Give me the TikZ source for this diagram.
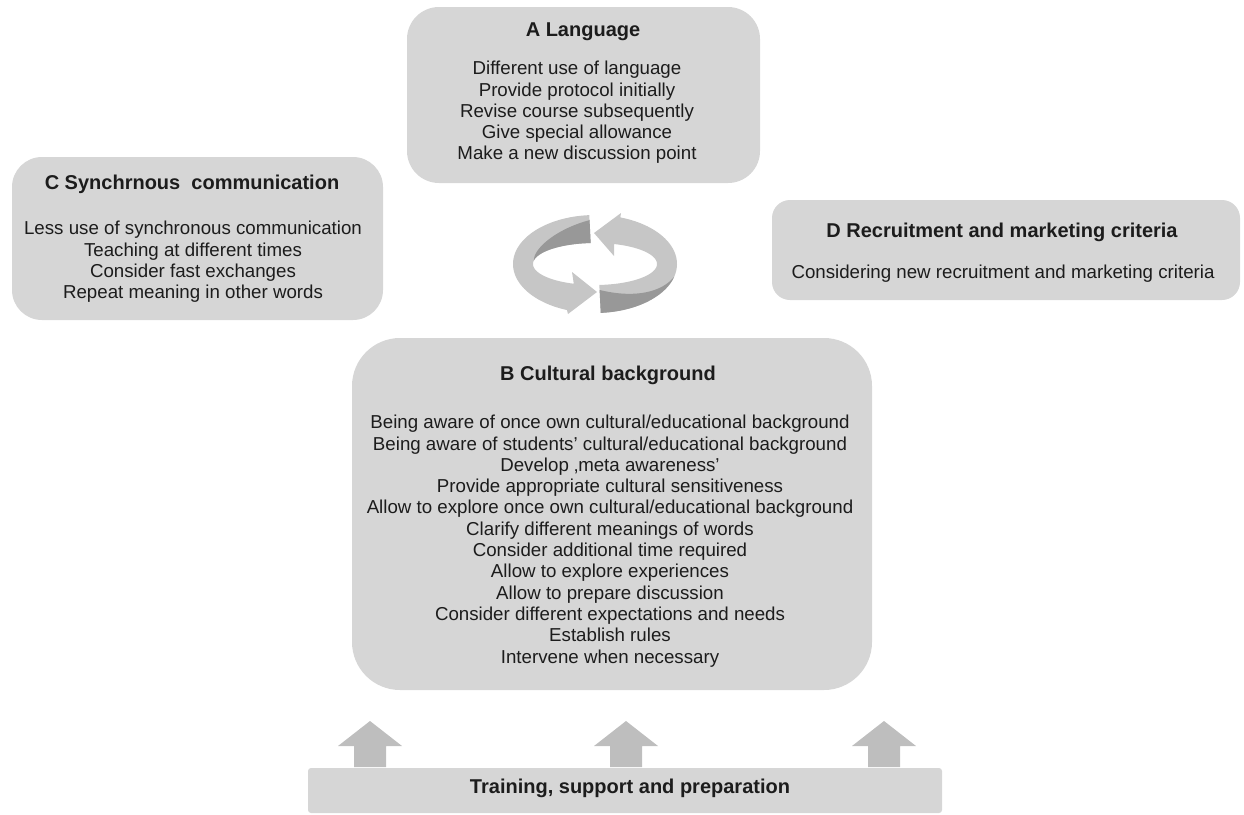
\documentclass[tikz,border=0pt]{standalone}
\usepackage{fontspec}
\setmainfont{Liberation Sans}
\definecolor{panelgray}{HTML}{D6D6D6}
\definecolor{ringlight}{HTML}{C6C6C6}
\definecolor{ringdark}{HTML}{989898}
\definecolor{arrowgray}{HTML}{BEBEBE}
\definecolor{inkgray}{HTML}{1C1C1C}
\begin{document}
\begin{tikzpicture}[x=1pt,y=-1pt,
  panel/.style={fill=panelgray, draw=none, rounded corners=#1, inner sep=0pt},
  heading/.style={font=\fontsize{20}{23}\selectfont\bfseries, text=inkgray, inner sep=0pt, anchor=base},
  bodytext/.style={font=\fontsize{18.7}{21.3}\selectfont, text=inkgray, align=center, inner sep=0pt, anchor=north},
  uparr/.pic={\fill[arrowgray] (0,0) -- (32,25) -- (16,25) -- (16,46) -- (-16,46) -- (-16,25) -- (-32,25) -- cycle;}
]
\useasboundingbox (0,0) rectangle (1244,814);

% ---- panels ----
\node[panel=32pt, minimum width=353pt, minimum height=176pt] (boxA) at (583.5,95) {};
\node[panel=30pt, minimum width=371pt, minimum height=163pt] (boxC) at (197.5,238.5) {};
\node[panel=18pt, minimum width=468pt, minimum height=100pt] (boxD) at (1006,250) {};
\node[panel=48pt, minimum width=520pt, minimum height=352pt] (boxB) at (612,514) {};
\node[panel=3pt, minimum width=634pt, minimum height=45pt] (bar) at (625,790.5) {};

% ---- A Language ----
\node[heading] (titleA) at (583,36) {A Language};
\node[bodytext] (textA) at (577,61) {Different use of language\\Provide protocol initially\\Revise course subsequently\\Give special allowance\\Make a new discussion point};

% ---- C Synchronous communication ----
\node[heading] (titleC) at (192,189) {C Synchrnous\ \ communication};
\node[bodytext] (textC) at (193,221) {Less use of synchronous communication\\Teaching at different times\\Consider fast exchanges\\Repeat meaning in other words};

% ---- D Recruitment ----
\node[heading] (titleD) at (1002,237) {D Recruitment and marketing criteria};
\node[bodytext] (textD) at (1003,265) {Considering new recruitment and marketing criteria};

% ---- B Cultural background ----
\node[heading] (titleB) at (608,380) {B Cultural background};
\node[bodytext] (textB) at (610,415) {Being aware of once own cultural/educational background\\
Being aware of students' cultural/educational background\\
Develop ‚meta awareness'\\
Provide appropriate cultural sensitiveness\\
Allow to explore once own cultural/educational background\\
Clarify different meanings of words\\
Consider additional time required\\
Allow to explore experiences\\
Allow to prepare discussion\\
Consider different expectations and needs\\
Establish rules\\
Intervene when necessary};

% ---- base bar ----
\node[heading, anchor=center] (barText) at (630,788) {Training, support and preparation};

% ---- upward block arrows ----
\pic at (370,721) {uparr};
\pic at (626,721) {uparr};
\pic at (884,721) {uparr};

% ---- circular arrows ----
% left ribbon, running from the top round the left side to the bottom
\fill[ringlight]
  plot[domain=266:110, samples=60, variable=\t] ({595+82*cos(\t)},{264+49*sin(\t)})
  -- (568,314) -- (597,292) -- (572,272)
  -- plot[domain=110:266, samples=60, variable=\t] ({595+62*cos(\t)},{264+21*sin(\t)})
  -- cycle;
\fill[ringdark]
  plot[domain=266:190, samples=40, variable=\t] ({595+(62+16*(\t-190)/76)*cos(\t)},{264+(21+23*(\t-190)/76)*sin(\t)})
  -- plot[domain=190:266, samples=40, variable=\t] ({595+62*cos(\t)},{264+21*sin(\t)})
  -- cycle;
% right ribbon, running from the bottom round the right side to the top
\fill[ringlight]
  plot[domain=86:-72, samples=60, variable=\t] ({595+82*cos(\t)},{264+49*sin(\t)})
  -- (621,213) -- (594,233) -- (614,256)
  -- plot[domain=-72:86, samples=60, variable=\t] ({595+62*cos(\t)},{264+21*sin(\t)})
  -- cycle;
\fill[ringdark]
  plot[domain=86:15, samples=40, variable=\t] ({595+82*cos(\t)},{264+49*sin(\t)})
  -- plot[domain=15:86, samples=40, variable=\t] ({595+(82-16*(\t-15)/71)*cos(\t)},{264+(49-23*(\t-15)/71)*sin(\t)})
  -- cycle;
\end{tikzpicture}
\end{document}
